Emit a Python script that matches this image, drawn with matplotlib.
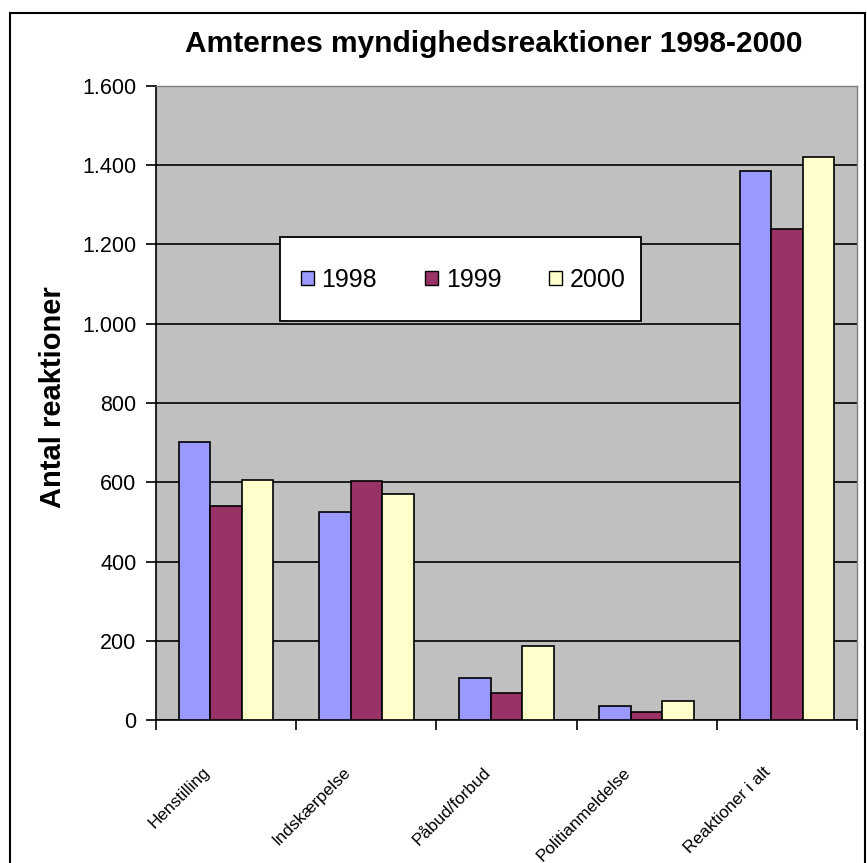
import matplotlib.pyplot as plt
import numpy as np
from matplotlib.patches import Patch, Rectangle
from matplotlib.ticker import FuncFormatter, FixedLocator
import matplotlib.transforms as mtransforms

plt.rcParams['font.family'] = ['Liberation Sans', 'DejaVu Sans']

# data
kategorier = ["Henstilling", "Indskærpelse", "Påbud/forbud", "Politianmeldelse", "Reaktioner i alt"]
aar = ["1998", "1999", "2000"]
v1998 = [702, 526, 107, 36, 1385]
v1999 = [540, 602, 67, 21, 1239]
v2000 = [606, 571, 188, 47, 1420]
farver = ["#9999FF", "#993366", "#FFFFCC"]

fig = plt.figure(figsize=(8.67, 8.63), dpi=100)
fig.patch.set_facecolor("white")

# black frame around the whole chart (bottom runs off the picture)
fig.patches.append(Rectangle((10 / 867, -0.05), 855 / 867, (863 - 13) / 863 + 0.05,
                             transform=fig.transFigure, fill=False, edgecolor="black",
                             linewidth=1.5, zorder=0))

ax = fig.add_axes([156 / 867, (863 - 720) / 863, 701 / 867, 634 / 863])
ax.set_facecolor("#C0C0C0")

x = np.arange(len(kategorier))
w = 0.225
for k, (vals, farve) in enumerate(zip([v1998, v1999, v2000], farver)):
    ax.bar(x + (k - 1) * w, vals, width=w, color=farve, edgecolor="black",
           linewidth=1.2, zorder=3)

ax.set_xlim(-0.5, len(kategorier) - 0.5)
ax.set_ylim(0, 1600)
ax.set_yticks(np.arange(0, 1601, 200))
ax.yaxis.set_major_formatter(FuncFormatter(lambda v, p: f"{int(v):,}".replace(",", ".")))
ax.grid(axis="y", color="black", linewidth=1.2, zorder=1)
ax.set_axisbelow(True)
ax.tick_params(axis="y", direction="out", length=7, width=1.2, labelsize=15.5, pad=7)

# ticks at category borders, labels at category centers
ax.xaxis.set_major_locator(FixedLocator(np.arange(-0.5, len(kategorier), 1.0)))
ax.set_xticklabels([])
ax.tick_params(axis="x", which="major", direction="out", length=7, width=1.2)
ax.xaxis.set_minor_locator(FixedLocator(x))
ax.set_xticklabels(kategorier, minor=True)
ax.tick_params(axis="x", which="minor", length=0, pad=32)
offset = mtransforms.ScaledTranslation(-24 / 100, 0, fig.dpi_scale_trans)
for lab in ax.get_xticklabels(minor=True):
    lab.set_fontsize(12.3)
    lab.set_rotation(45)
    lab.set_ha("right")
    lab.set_va("top")
    lab.set_rotation_mode("anchor")
    lab.set_transform(lab.get_transform() + offset)

for side in ["left", "bottom"]:
    ax.spines[side].set_color("black")
    ax.spines[side].set_linewidth(1.2)
for side in ["top", "right"]:
    ax.spines[side].set_color("#808080")
    ax.spines[side].set_linewidth(1.0)

fig.text(53 / 867, 1 - 397 / 863, "Antal reaktioner", rotation=90,
         ha="center", va="center", fontsize=21, fontweight="bold")
fig.text(494 / 867, 1 - 52 / 863, "Amternes myndighedsreaktioner 1998-2000",
         ha="center", va="baseline", fontsize=21.5, fontweight="bold")

# legend box
ax.add_patch(Rectangle(((280 - 156) / 701, (720 - 321) / 634), 361 / 701, 84 / 634,
                       transform=ax.transAxes, facecolor="white", edgecolor="black",
                       linewidth=1.3, zorder=4))
handles = [Patch(facecolor=f, edgecolor="black", linewidth=1.0) for f in farver]
leg = ax.legend(handles, aar, loc="center", ncol=3, fontsize=18,
                bbox_to_anchor=((463 - 156) / 701, (720 - 280) / 634),
                frameon=False, handlelength=0.52, handleheight=0.52,
                handletextpad=0.32, columnspacing=1.9, borderpad=0)
leg.set_zorder(5)

fig.savefig("out.png", dpi=100)
